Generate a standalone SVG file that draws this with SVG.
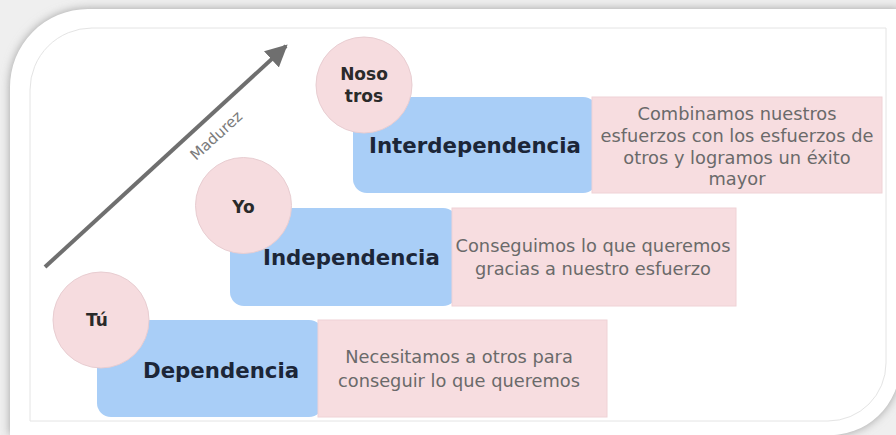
<svg xmlns="http://www.w3.org/2000/svg" width="896" height="435" viewBox="0 0 896 435">
  <defs>
    <filter id="shadow" x="-10%" y="-10%" width="120%" height="120%">
      <feGaussianBlur stdDeviation="5"/>
    </filter>
    <marker id="arrowHead" viewBox="0 0 10 10" refX="9" refY="5" markerWidth="5.5" markerHeight="5.5" orient="auto" markerUnits="strokeWidth">
      <path d="M0,0 L10,5 L0,10 Z" fill="#6f6f6f"/>
    </marker>
    <style>
      .blue { fill: #a9cef7; }
      .pink { fill: #f7dde0; stroke: #efd2d6; stroke-width: 1; }
      .circ { fill: #f6dcdf; stroke: #e8cdd1; stroke-width: 1; }
      .title { font-family: "DejaVu Sans", Verdana, sans-serif; font-weight: bold; font-size: 21.3px; fill: #1c2638; }
      .ctext { font-family: "DejaVu Sans", Verdana, sans-serif; font-weight: bold; font-size: 17px; fill: #2a2a2a; text-anchor: middle; }
      .body { font-family: "DejaVu Sans", Verdana, sans-serif; font-size: 17.8px; fill: #6a6a6a; text-anchor: middle; }
      .axis { font-family: "DejaVu Sans", Verdana, sans-serif; font-size: 15px; fill: #7a7a7a; }
    </style>
  </defs>

  <!-- frame -->
  <rect x="0" y="0" width="896" height="435" fill="#efefef"/>
  <path d="M10,440 V88 A78,78 0 0 1 88,9 H900 V365 A70,70 0 0 1 826,435 H10 Z" fill="#a0a0a0" filter="url(#shadow)"/>
  <path d="M10,440 V88 A78,78 0 0 1 88,9 H900 V365 A70,70 0 0 1 826,435 H10 Z" fill="#ffffff"/>
  <path d="M30,421 V90 A62,62 0 0 1 92,28 H886 V363 A58,58 0 0 1 828,421 Z" fill="none" stroke="#e4e4e4" stroke-width="1"/>

  <!-- connectors -->
  <g id="connectors">
    <line x1="45" y1="267" x2="286" y2="46" stroke="#6f6f6f" stroke-width="4" marker-end="url(#arrowHead)"/>
    <text class="axis" x="196" y="161" transform="rotate(-42.4 196 161)">Madurez</text>
  </g>

  <!-- Interdependencia -->
  <g id="interdependencia">
    <rect class="blue" x="353" y="97" width="244" height="96" rx="14"/>
    <rect class="pink" x="592" y="97" width="290" height="96"/>
    <text class="title" x="369" y="153">Interdependencia</text>
    <text class="body" x="737" y="120">Combinamos nuestros</text>
    <text class="body" x="737" y="142">esfuerzos con los esfuerzos de</text>
    <text class="body" x="737" y="164">otros y logramos un éxito</text>
    <text class="body" x="737" y="185">mayor</text>
  </g>
  <g id="nosotros">
    <circle class="circ" cx="364" cy="85" r="48"/>
    <text class="ctext" x="364" y="80">Noso</text>
    <text class="ctext" x="364" y="102">tros</text>
  </g>

  <!-- Independencia -->
  <g id="independencia">
    <rect class="blue" x="230" y="208" width="227" height="98" rx="14"/>
    <rect class="pink" x="452" y="208" width="284" height="98"/>
    <text class="title" x="263" y="265">Independencia</text>
    <text class="body" x="593" y="252">Conseguimos lo que queremos</text>
    <text class="body" x="593" y="275">gracias a nuestro esfuerzo</text>
  </g>
  <g id="yo">
    <circle class="circ" cx="243.5" cy="205.5" r="48"/>
    <text class="ctext" x="243.5" y="213">Yo</text>
  </g>

  <!-- Dependencia -->
  <g id="dependencia">
    <rect class="blue" x="97" y="320" width="226" height="97" rx="14"/>
    <rect class="pink" x="318" y="320" width="289" height="97"/>
    <text class="title" x="143" y="378">Dependencia</text>
    <text class="body" x="459" y="363">Necesitamos a otros para</text>
    <text class="body" x="459" y="387">conseguir lo que queremos</text>
  </g>
  <g id="tu">
    <circle class="circ" cx="101" cy="320" r="48"/>
    <text class="ctext" x="97" y="326">Tú</text>
  </g>
</svg>
